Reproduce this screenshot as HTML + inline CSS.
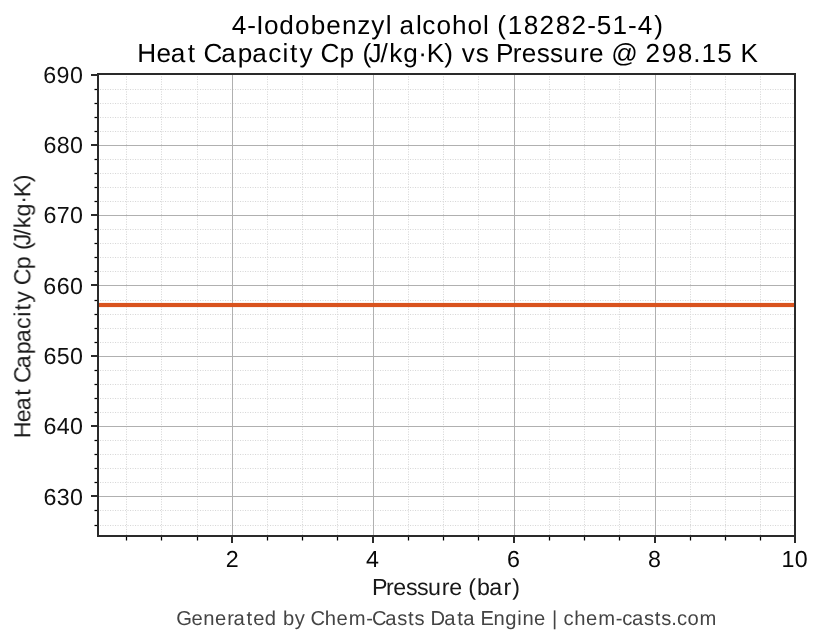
<!DOCTYPE html>
<html><head><meta charset="utf-8"><title>4-Iodobenzyl alcohol - Heat Capacity vs Pressure</title><style>
html,body{margin:0;padding:0;background:#fff;width:823px;height:644px;overflow:hidden}
svg{position:absolute;left:0;top:0;display:block}
text{font-family:"Liberation Sans",sans-serif}
.mn{stroke:#d8d8d8;stroke-width:1;stroke-dasharray:1.1 1.4}
.mj{fill:#b0b0b0}
.tx{will-change:transform}
</style></head><body>
<svg width="823" height="644" viewBox="0 0 823 644">
<rect width="823" height="644" fill="#fff"/>
<g>
<line x1="126.5" y1="535" x2="126.5" y2="75" class="mn"/>
<line x1="161.5" y1="535" x2="161.5" y2="75" class="mn"/>
<line x1="197.5" y1="535" x2="197.5" y2="75" class="mn"/>
<line x1="267.5" y1="535" x2="267.5" y2="75" class="mn"/>
<line x1="302.5" y1="535" x2="302.5" y2="75" class="mn"/>
<line x1="337.5" y1="535" x2="337.5" y2="75" class="mn"/>
<line x1="408.5" y1="535" x2="408.5" y2="75" class="mn"/>
<line x1="443.5" y1="535" x2="443.5" y2="75" class="mn"/>
<line x1="478.5" y1="535" x2="478.5" y2="75" class="mn"/>
<line x1="549.5" y1="535" x2="549.5" y2="75" class="mn"/>
<line x1="584.5" y1="535" x2="584.5" y2="75" class="mn"/>
<line x1="619.5" y1="535" x2="619.5" y2="75" class="mn"/>
<line x1="690.5" y1="535" x2="690.5" y2="75" class="mn"/>
<line x1="725.5" y1="535" x2="725.5" y2="75" class="mn"/>
<line x1="760.5" y1="535" x2="760.5" y2="75" class="mn"/>
<line x1="100" y1="89.5" x2="794" y2="89.5" class="mn"/>
<line x1="100" y1="103.5" x2="794" y2="103.5" class="mn"/>
<line x1="100" y1="117.5" x2="794" y2="117.5" class="mn"/>
<line x1="100" y1="131.5" x2="794" y2="131.5" class="mn"/>
<line x1="100" y1="159.5" x2="794" y2="159.5" class="mn"/>
<line x1="100" y1="173.5" x2="794" y2="173.5" class="mn"/>
<line x1="100" y1="187.5" x2="794" y2="187.5" class="mn"/>
<line x1="100" y1="201.5" x2="794" y2="201.5" class="mn"/>
<line x1="100" y1="229.5" x2="794" y2="229.5" class="mn"/>
<line x1="100" y1="243.5" x2="794" y2="243.5" class="mn"/>
<line x1="100" y1="257.5" x2="794" y2="257.5" class="mn"/>
<line x1="100" y1="271.5" x2="794" y2="271.5" class="mn"/>
<line x1="100" y1="300.5" x2="794" y2="300.5" class="mn"/>
<line x1="100" y1="314.5" x2="794" y2="314.5" class="mn"/>
<line x1="100" y1="328.5" x2="794" y2="328.5" class="mn"/>
<line x1="100" y1="342.5" x2="794" y2="342.5" class="mn"/>
<line x1="100" y1="370.5" x2="794" y2="370.5" class="mn"/>
<line x1="100" y1="384.5" x2="794" y2="384.5" class="mn"/>
<line x1="100" y1="398.5" x2="794" y2="398.5" class="mn"/>
<line x1="100" y1="412.5" x2="794" y2="412.5" class="mn"/>
<line x1="100" y1="440.5" x2="794" y2="440.5" class="mn"/>
<line x1="100" y1="454.5" x2="794" y2="454.5" class="mn"/>
<line x1="100" y1="468.5" x2="794" y2="468.5" class="mn"/>
<line x1="100" y1="482.5" x2="794" y2="482.5" class="mn"/>
<line x1="100" y1="510.5" x2="794" y2="510.5" class="mn"/>
<line x1="100" y1="525.5" x2="794" y2="525.5" class="mn"/>
<rect x="232" y="75" width="1" height="460" class="mj"/>
<rect x="373" y="75" width="1" height="460" class="mj"/>
<rect x="514" y="75" width="1" height="460" class="mj"/>
<rect x="655" y="75" width="1" height="460" class="mj"/>
<rect x="99" y="145" width="695" height="1" class="mj"/>
<rect x="99" y="215" width="695" height="1" class="mj"/>
<rect x="99" y="285" width="695" height="1" class="mj"/>
<rect x="99" y="356" width="695" height="1" class="mj"/>
<rect x="99" y="426" width="695" height="1" class="mj"/>
<rect x="99" y="496" width="695" height="1" class="mj"/>
<rect x="99" y="302.92" width="695" height="4.16" fill="#d9531e"/>
<rect x="97" y="73" width="699" height="2" fill="#2a2a2a"/>
<rect x="97" y="535" width="699" height="2" fill="#2a2a2a"/>
<rect x="97" y="73" width="2" height="464" fill="#2a2a2a"/>
<rect x="794" y="73" width="2" height="464" fill="#2a2a2a"/>
<rect x="91" y="74" width="6" height="2" fill="#2a2a2a"/>
<rect x="91" y="144" width="6" height="2" fill="#2a2a2a"/>
<rect x="91" y="214" width="6" height="2" fill="#2a2a2a"/>
<rect x="91" y="284" width="6" height="2" fill="#2a2a2a"/>
<rect x="91" y="355" width="6" height="2" fill="#2a2a2a"/>
<rect x="91" y="425" width="6" height="2" fill="#2a2a2a"/>
<rect x="91" y="495" width="6" height="2" fill="#2a2a2a"/>
<rect x="94.5" y="88.875" width="2.5" height="1.25" fill="#000"/>
<rect x="94.5" y="102.875" width="2.5" height="1.25" fill="#000"/>
<rect x="94.5" y="116.875" width="2.5" height="1.25" fill="#000"/>
<rect x="94.5" y="130.875" width="2.5" height="1.25" fill="#000"/>
<rect x="94.5" y="158.875" width="2.5" height="1.25" fill="#000"/>
<rect x="94.5" y="172.875" width="2.5" height="1.25" fill="#000"/>
<rect x="94.5" y="186.875" width="2.5" height="1.25" fill="#000"/>
<rect x="94.5" y="200.875" width="2.5" height="1.25" fill="#000"/>
<rect x="94.5" y="228.875" width="2.5" height="1.25" fill="#000"/>
<rect x="94.5" y="242.875" width="2.5" height="1.25" fill="#000"/>
<rect x="94.5" y="256.875" width="2.5" height="1.25" fill="#000"/>
<rect x="94.5" y="270.875" width="2.5" height="1.25" fill="#000"/>
<rect x="94.5" y="299.875" width="2.5" height="1.25" fill="#000"/>
<rect x="94.5" y="313.875" width="2.5" height="1.25" fill="#000"/>
<rect x="94.5" y="327.875" width="2.5" height="1.25" fill="#000"/>
<rect x="94.5" y="341.875" width="2.5" height="1.25" fill="#000"/>
<rect x="94.5" y="369.875" width="2.5" height="1.25" fill="#000"/>
<rect x="94.5" y="383.875" width="2.5" height="1.25" fill="#000"/>
<rect x="94.5" y="397.875" width="2.5" height="1.25" fill="#000"/>
<rect x="94.5" y="411.875" width="2.5" height="1.25" fill="#000"/>
<rect x="94.5" y="439.875" width="2.5" height="1.25" fill="#000"/>
<rect x="94.5" y="453.875" width="2.5" height="1.25" fill="#000"/>
<rect x="94.5" y="467.875" width="2.5" height="1.25" fill="#000"/>
<rect x="94.5" y="481.875" width="2.5" height="1.25" fill="#000"/>
<rect x="94.5" y="509.875" width="2.5" height="1.25" fill="#000"/>
<rect x="94.5" y="524.875" width="2.5" height="1.25" fill="#000"/>
<rect x="231" y="537" width="2" height="6" fill="#2a2a2a"/>
<rect x="372" y="537" width="2" height="6" fill="#2a2a2a"/>
<rect x="513" y="537" width="2" height="6" fill="#2a2a2a"/>
<rect x="654" y="537" width="2" height="6" fill="#2a2a2a"/>
<rect x="794" y="537" width="2" height="6" fill="#2a2a2a"/>
<rect x="125.875" y="537" width="1.25" height="3.5" fill="#000"/>
<rect x="160.875" y="537" width="1.25" height="3.5" fill="#000"/>
<rect x="196.875" y="537" width="1.25" height="3.5" fill="#000"/>
<rect x="266.875" y="537" width="1.25" height="3.5" fill="#000"/>
<rect x="301.875" y="537" width="1.25" height="3.5" fill="#000"/>
<rect x="336.875" y="537" width="1.25" height="3.5" fill="#000"/>
<rect x="407.875" y="537" width="1.25" height="3.5" fill="#000"/>
<rect x="442.875" y="537" width="1.25" height="3.5" fill="#000"/>
<rect x="477.875" y="537" width="1.25" height="3.5" fill="#000"/>
<rect x="548.875" y="537" width="1.25" height="3.5" fill="#000"/>
<rect x="583.875" y="537" width="1.25" height="3.5" fill="#000"/>
<rect x="618.875" y="537" width="1.25" height="3.5" fill="#000"/>
<rect x="689.875" y="537" width="1.25" height="3.5" fill="#000"/>
<rect x="724.875" y="537" width="1.25" height="3.5" fill="#000"/>
<rect x="759.875" y="537" width="1.25" height="3.5" fill="#000"/>
</g>
<g class="tx" text-rendering="geometricPrecision">
<text x="231.66 247.16 256.19 263.93 279.34 295.05 310.76 326.26 341.91 357.28 371.20 385.66 391.47 399.49 415.91 422.36 436.43 451.99 467.55 483.04 488.85 497.28 507.76 523.80 539.49 555.80 571.49 587.28 596.70 612.51 628.03 637.66 654.16" y="33.60" font-size="26.16" fill="#000">4-Iodobenzyl alcohol (18282-51-4)</text>
<text x="137.14 156.46 170.82 187.79 195.06 203.51 221.19 237.83 252.32 268.18 282.50 290.04 299.53 312.61 320.51 339.58 354.13 362.48 368.50 380.48 389.15 403.29 418.24 426.75 444.36 453.07 461.76 475.84 488.92 496.04 512.64 521.71 536.84 549.97 563.52 580.02 589.09 603.64 611.29 637.84 645.44 661.63 677.63 693.20 701.46 717.28 731.83 740.62" y="61.60" font-size="26.16" fill="#000">Heat Capacity Cp (J/kg·K) vs Pressure @ 298.15 K</text>
<text x="43.28 56.61 69.98" y="82.80" font-size="23.26" fill="#101010">690</text>
<text x="43.53 56.79 69.98" y="152.80" font-size="23.26" fill="#101010">680</text>
<text x="43.40 56.72 69.98" y="222.80" font-size="23.26" fill="#101010">670</text>
<text x="43.28 56.65 69.98" y="293.80" font-size="23.26" fill="#101010">660</text>
<text x="43.40 56.63 69.98" y="363.80" font-size="23.26" fill="#101010">650</text>
<text x="43.40 56.74 69.98" y="433.80" font-size="23.26" fill="#101010">640</text>
<text x="43.40 56.80 69.98" y="504.80" font-size="23.26" fill="#101010">630</text>
<text x="225.63" y="566.60" font-size="23.26" fill="#080808">2</text>
<text x="366.11" y="566.60" font-size="23.26" fill="#080808">4</text>
<text x="506.95" y="566.60" font-size="23.26" fill="#080808">6</text>
<text x="648.03" y="566.60" font-size="23.26" fill="#080808">8</text>
<text x="781.39 794.74" y="566.60" font-size="23.26" fill="#080808">10</text>
<text x="371.88 385.99 393.34 406.04 416.91 428.02 441.87 449.22 462.15 468.29 477.11 489.20 503.62 512.28" y="594.80" font-size="23.26" fill="#181818">Pressure (bar)</text>
<g transform="translate(30.30,0) rotate(-90)"><text x="-438.39 -422.18 -410.20 -395.81 -389.35 -383.10 -368.20 -354.29 -342.20 -328.90 -316.69 -310.43 -302.72 -291.09 -285.35 -269.29 -256.35 -250.11 -245.25 -235.27 -228.23 -216.51 -203.85 -197.25 -182.25" y="0.00" font-size="23.26" fill="#1b1b1b">Heat Capacity Cp (J/kg·K)</text></g>
<text x="176.29 191.60 203.32 214.98 227.21 233.59 246.50 253.23 264.75 275.98 282.93 294.84 304.94 310.53 324.79 336.48 348.66 366.15 371.90 385.22 397.34 408.00 414.59 424.69 430.44 444.34 457.25 463.22 474.45 480.48 493.57 505.25 517.27 522.44 534.10 545.34 551.95 557.20 563.55 574.29 585.98 598.16 615.65 622.17 631.97 644.09 654.75 661.34 671.33 676.92 687.41 699.53" y="624.50" font-size="20.20" fill="#444">Generated by Chem-Casts Data Engine | chem-casts.com</text>
</g>
</svg>
</body></html>
